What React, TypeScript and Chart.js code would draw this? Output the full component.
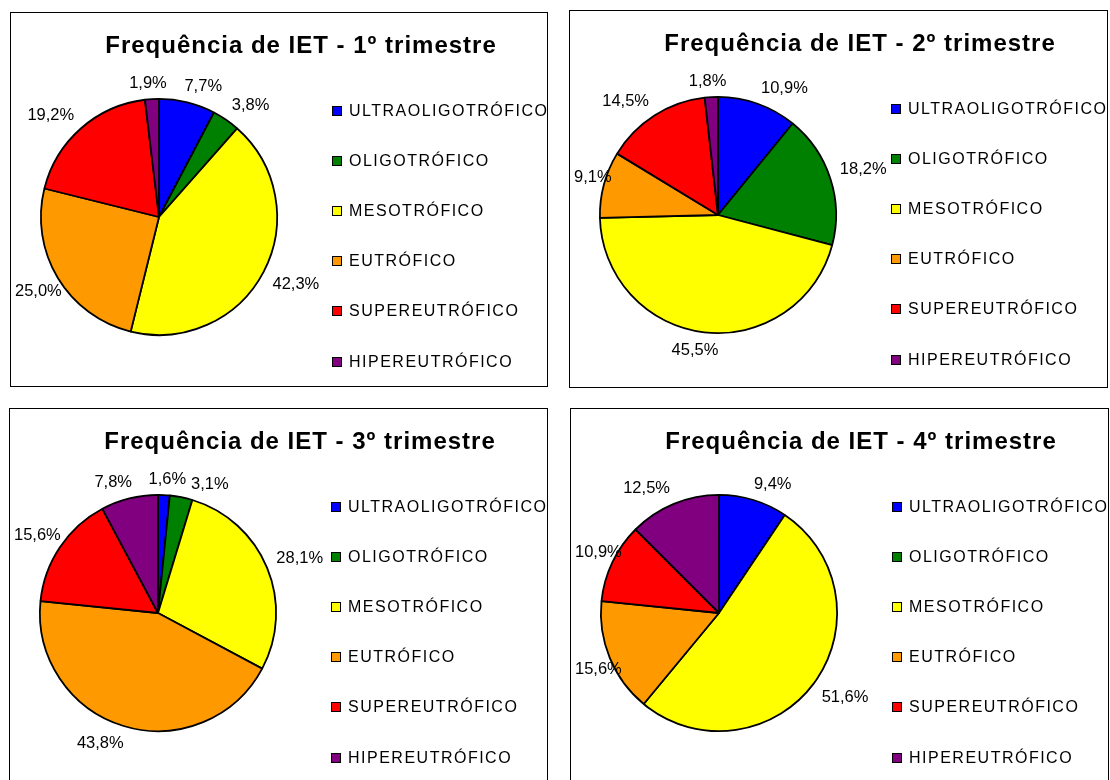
import React, { useEffect, useRef } from 'react';
import { Chart, registerables } from 'chart.js';

Chart.register(...registerables);

const categories = [
  'ULTRAOLIGOTRÓFICO',
  'OLIGOTRÓFICO',
  'MESOTRÓFICO',
  'EUTRÓFICO',
  'SUPEREUTRÓFICO',
  'HIPEREUTRÓFICO',
];

const sliceColors = ['#0000FF', '#008000', '#FFFF00', '#FF9900', '#FF0000', '#800080'];

const q1Values = [7.7, 3.8, 42.3, 25.0, 19.2, 1.9];
const q2Values = [10.9, 18.2, 45.5, 9.1, 14.5, 1.8];
const q3Values = [1.6, 3.1, 28.1, 43.8, 15.6, 7.8];
const q4Values = [9.4, 0, 51.6, 15.6, 10.9, 12.5];

const chartTitles = [
  'Frequência de IET - 1º trimestre',
  'Frequência de IET - 2º trimestre',
  'Frequência de IET - 3º trimestre',
  'Frequência de IET - 4º trimestre',
];

const FONT = "'Liberation Sans', Arial, Helvetica, sans-serif";

const PIE_LEFT = 29;
const PIE_TOP = 85;
const PIE_SIZE = 238;

const clamp1 = (t: number) => Math.max(-1, Math.min(1, t));

type Box = { x: number; y: number; w: number; h: number };
const overlaps = (a: Box, b: Box, gap: number) =>
  Math.abs(a.x - b.x) < (a.w + b.w) / 2 + gap && Math.abs(a.y - b.y) < (a.h + b.h) / 2 + gap;

const overlayPlugin = {
  id: 'ietOverlay',
  afterDraw(chart: any, _args: any, opts: any) {
    const ctx = chart.ctx as CanvasRenderingContext2D;
    const cw = chart.width;
    ctx.save();
    // title
    ctx.fillStyle = '#000';
    ctx.font = `bold 24px ${FONT}`;
    (ctx as any).letterSpacing = '1px';
    ctx.textAlign = 'center';
    ctx.textBaseline = 'middle';
    ctx.fillText(opts.title, 290, 33);

    // legend
    ctx.font = `16px ${FONT}`;
    (ctx as any).letterSpacing = '1.5px';
    ctx.textAlign = 'left';
    const labels = chart.data.labels as string[];
    const bg = chart.data.datasets[0].backgroundColor as string[];
    labels.forEach((lab, i) => {
      const y = Math.round(97.5 + i * 50.2);
      ctx.fillStyle = bg[i];
      ctx.fillRect(321, y - 5, 10, 10);
      ctx.strokeStyle = '#000';
      ctx.lineWidth = 1;
      ctx.strokeRect(321.5, y - 4.5, 9, 9);
      ctx.fillStyle = '#000';
      ctx.fillText(lab, 338, y + 1);
    });

    // percentage labels
    ctx.font = `16.5px ${FONT}`;
    (ctx as any).letterSpacing = '0px';
    ctx.textAlign = 'center';
    ctx.textBaseline = 'middle';
    const meta = chart.getDatasetMeta(0);
    const values = chart.data.datasets[0].data as number[];
    const placed: Box[] = [];
    meta.data.forEach((arc: any, i: number) => {
      const v = values[i];
      if (!v) return;
      const p = arc.getProps(['x', 'y', 'startAngle', 'endAngle', 'outerRadius'], true);
      const text = v.toFixed(1).replace('.', ',') + '%';
      const w = ctx.measureText(text).width;
      const h = 14;
      const place = (ang: number): Box => {
        const dx = Math.cos(ang);
        const dy = Math.sin(ang);
        const px = p.x + dx * (p.outerRadius + 10);
        const py = p.y + dy * (p.outerRadius + 10);
        let cx = px + (clamp1(3 * dx) * w) / 2;
        const cy = py + (clamp1(3 * dy) * h) / 2;
        cx = Math.max(4 + w / 2, Math.min(cw - 4 - w / 2, cx));
        return { x: cx, y: cy, w, h };
      };
      let ang = (p.startAngle + p.endAngle) / 2;
      let box = place(ang);
      let guard = 0;
      while (placed.some((b) => overlaps(b, box, 3)) && guard < 90) {
        ang += Math.PI / 180;
        box = place(ang);
        guard++;
      }
      placed.push(box);
      ctx.fillStyle = '#000';
      ctx.fillText(text, box.x, box.y + 1);
    });
    ctx.restore();
  },
};

type PanelProps = {
  left: number;
  top: number;
  width: number;
  height: number;
  values: number[];
  title: string;
};

function PiePanel({ left, top, width, height, values, title }: PanelProps) {
  const ref = useRef<HTMLCanvasElement>(null);
  const cw = width - 2;
  const ch = height - 2;
  useEffect(() => {
    if (!ref.current) return;
    const chart = new Chart(ref.current, {
      type: 'pie',
      data: {
        labels: categories,
        datasets: [
          {
            data: values,
            backgroundColor: sliceColors,
            borderColor: '#000',
            borderWidth: 1.8,
            hoverOffset: 0,
          },
        ],
      },
      options: {
        responsive: false,
        maintainAspectRatio: false,
        animation: false,
        devicePixelRatio: 1,
        events: [],
        layout: {
          padding: {
            left: PIE_LEFT,
            top: PIE_TOP,
            right: cw - PIE_LEFT - PIE_SIZE,
            bottom: ch - PIE_TOP - PIE_SIZE,
          },
        },
        plugins: {
          legend: { display: false },
          title: { display: false },
          tooltip: { enabled: false },
          ietOverlay: { title },
        } as any,
      },
      plugins: [overlayPlugin as any],
    });
    return () => chart.destroy();
  }, [values, title, cw, ch]);

  return (
    <div
      style={{
        position: 'absolute',
        left,
        top,
        width,
        height,
        boxSizing: 'border-box',
        border: '1px solid #000',
        background: '#fff',
      }}
    >
      <canvas ref={ref} width={cw} height={ch} style={{ display: 'block', width: cw, height: ch }} />
    </div>
  );
}

export default function App() {
  return (
    <div
      style={{
        position: 'absolute',
        left: 0,
        top: 0,
        width: 1110,
        height: 780,
        overflow: 'hidden',
        background: '#fff',
      }}
    >
      <PiePanel left={10} top={12} width={538} height={375} values={q1Values} title={chartTitles[0]} />
      <PiePanel left={569} top={10} width={539} height={378} values={q2Values} title={chartTitles[1]} />
      <PiePanel left={9} top={408} width={539} height={380} values={q3Values} title={chartTitles[2]} />
      <PiePanel left={570} top={408} width={539} height={380} values={q4Values} title={chartTitles[3]} />
    </div>
  );
}
